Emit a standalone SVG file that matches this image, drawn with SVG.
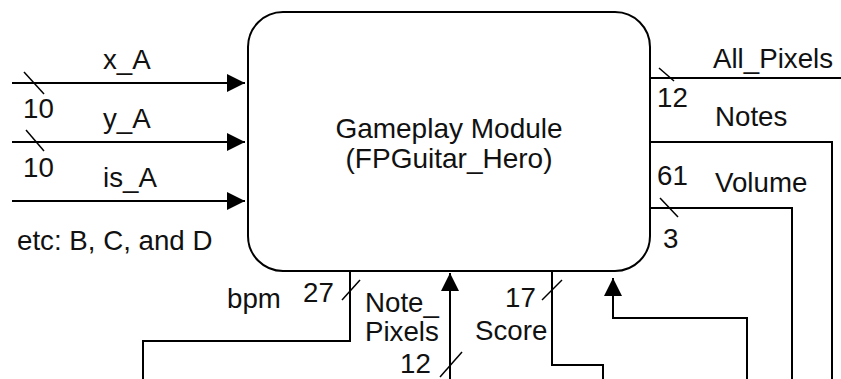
<svg xmlns="http://www.w3.org/2000/svg" width="841" height="379" viewBox="0 0 841 379">
<style>
text{font-family:"Liberation Sans",Arial,Helvetica,sans-serif;fill:#111}
.lbl{font-size:27.7px}
.main{font-size:28px}
.wire{fill:none;stroke:#000;stroke-width:2}
.slash{stroke:#000;stroke-width:1.5}
</style>
<defs>
<marker id="arr" markerUnits="userSpaceOnUse" markerWidth="20" markerHeight="20" refX="18" refY="9" orient="auto">
<path d="M0,0 L18,9 L0,18 Z" fill="#000"/>
</marker>
</defs>
<rect width="841" height="379" fill="#fff"/>
<g id="gameplay_module">
<rect x="248" y="12" width="402" height="259" rx="35" ry="35" fill="#fff" stroke="#000" stroke-width="2"/>
<text class="main" x="449" y="138" text-anchor="middle">Gameplay Module</text>
<text class="main" x="449" y="168" text-anchor="middle">(FPGuitar_Hero)</text>
</g>
<g id="connectors">
<path class="wire" d="M12,83 H245" marker-end="url(#arr)"/>
<path class="wire" d="M12,142 H245" marker-end="url(#arr)"/>
<path class="wire" d="M12,201 H245" marker-end="url(#arr)"/>
<path class="wire" d="M650,78 H841"/>
<path class="wire" d="M650,142 H832 V379"/>
<path class="wire" d="M650,208 H792 V379"/>
<path class="wire" d="M350,271 V341 H143 V379"/>
<path class="wire" d="M450,379 V273" marker-end="url(#arr)"/>
<path class="wire" d="M552,271 V365 H603 V379"/>
<path class="wire" d="M747,379 V318 H613 V278" marker-end="url(#arr)"/>
<line class="slash" x1="24" y1="72" x2="44" y2="94"/>
<line class="slash" x1="26" y1="130" x2="44" y2="151"/>
<line class="slash" x1="659" y1="68" x2="674" y2="81"/>
<line class="slash" x1="660" y1="198" x2="678" y2="217"/>
<line class="slash" x1="342" y1="300" x2="360" y2="280"/>
<line class="slash" x1="542" y1="300" x2="562" y2="280"/>
<line class="slash" x1="440" y1="377" x2="462" y2="352"/>
</g>
<g id="labels">
<text class="lbl" x="103" y="69">x_A</text>
<text class="lbl" x="103" y="128">y_A</text>
<text class="lbl" x="103" y="187">is_A</text>
<text class="lbl" x="23" y="118">10</text>
<text class="lbl" x="23" y="177">10</text>
<text class="lbl" x="17" y="250">etc: B, C, and D</text>
<text class="lbl" x="713" y="68">All_Pixels</text>
<text class="lbl" x="657" y="107">12</text>
<text class="lbl" x="715" y="126">Notes</text>
<text class="lbl" x="657" y="185">61</text>
<text class="lbl" x="715" y="192">Volume</text>
<text class="lbl" x="663" y="248">3</text>
<text class="lbl" x="227" y="308">bpm</text>
<text class="lbl" x="303" y="302">27</text>
<text class="lbl" x="365" y="312">Note_</text>
<text class="lbl" x="365" y="341">Pixels</text>
<text class="lbl" x="400" y="373">12</text>
<text class="lbl" x="505" y="307">17</text>
<text class="lbl" x="475" y="340">Score</text>
</g>
</svg>
